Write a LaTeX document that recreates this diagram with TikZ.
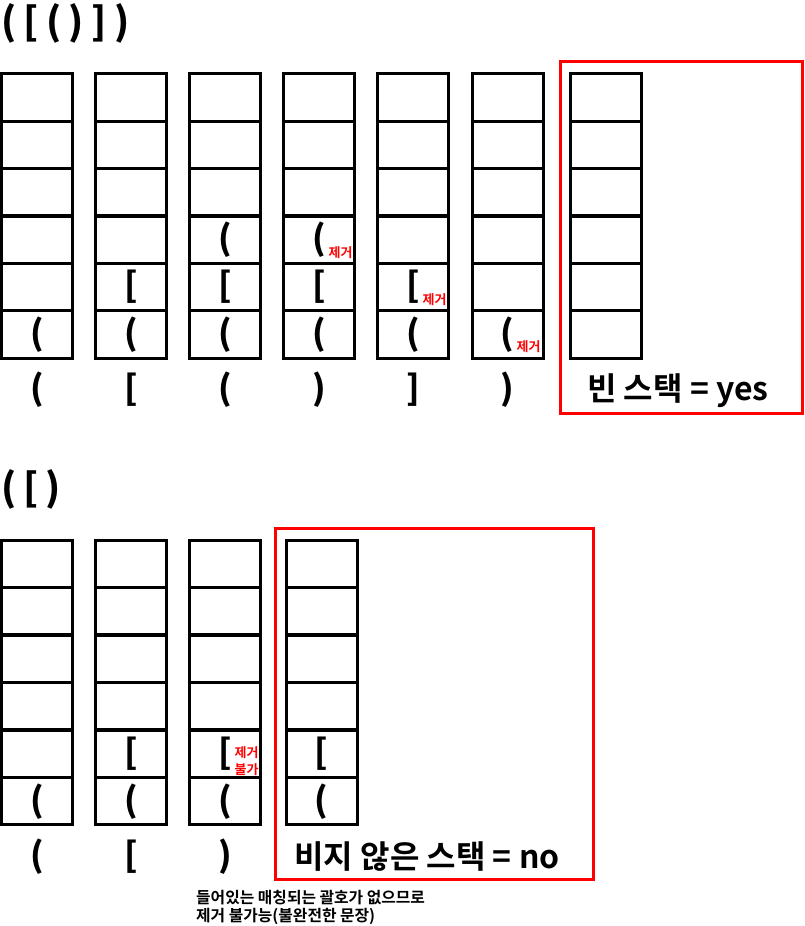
\documentclass[tikz,border=0pt]{standalone}
\usepackage{fontspec}
\setmainfont{Noto Sans CJK KR}[BoldFont={Noto Sans CJK KR Bold}]
\newfontfamily\brfont{Noto Sans CJK KR Black}
\usetikzlibrary{positioning}
\definecolor{markred}{rgb}{1,0,0}

\begin{document}
\begin{tikzpicture}[x=1pt,y=-1pt]
\tikzstyle{cell}=[draw,line width=3pt,minimum width=71pt,minimum height=47.4pt,inner sep=0pt]
\tikzstyle{br}=[font=\brfont\fontsize{34}{36}\selectfont,inner sep=0pt]
\tikzstyle{note}=[font=\bfseries\fontsize{13}{17}\selectfont,text=markred,inner sep=0pt,align=left]
\tikzstyle{res}=[font=\bfseries\fontsize{32}{34}\selectfont,inner sep=0pt]
\tikzstyle{frame}=[draw=markred,line width=3pt,inner sep=0pt]
\useasboundingbox (0,0) rectangle (804,926);

%% first sentence
\node[br,anchor=west,font=\brfont\fontsize{38}{40}\selectfont] (title1) at (1,23) {(\hspace{7.4pt}[\hspace{7.4pt}(\hspace{7.4pt})\hspace{7.4pt}]\hspace{7.4pt})};
\node[frame,minimum width=241.6pt,minimum height=351.6pt] (yesbox) at (681.5,237.5) {};
\foreach \i/\x in {1/37,2/131.1,3/225.2,4/319.3,5/413.4,6/507.5,7/605.5}
  \foreach \j in {1,...,6}
    \node[cell] (t\i-\j) at (\x,{74+47.33*(\j-0.5)}) {};

\node[br] (tb1) at (t1-6) {(};
\node[br] (tb2) at (t2-6) {(};
\node[br] (tb3) at (t2-5) {[};
\node[br] (tb4) at (t3-6) {(};
\node[br] (tb5) at (t3-5) {[};
\node[br] (tb6) at (t3-4) {(};
\node[br] (tb7) at (t4-6) {(};
\node[br] (tb8) at (t4-5) {[};
\node[br] (tb9) at (t4-4) {(};
\node[br] (tb10) at (t5-6) {(};
\node[br] (tb11) at (t5-5) {[};
\node[br] (tb12) at (t6-6) {(};
\node[note] (tn1) at (340.5,253) {제거};
\node[note] (tn2) at (434.5,300) {제거};
\node[note] (tn3) at (528.5,347) {제거};

\node[br] (tl1) at (37,390) {(};
\node[br] (tl2) at (131.1,390) {[};
\node[br] (tl3) at (225.2,390) {(};
\node[br] (tl4) at (319.3,390) {)};
\node[br] (tl5) at (413.4,390) {]};
\node[br] (tl6) at (507.5,390) {)};
\node[res] (yes) at (678,391) {빈 스택 = yes};

%% second sentence
\node[br,anchor=west,font=\brfont\fontsize{38}{40}\selectfont] (title2) at (1,489) {(\hspace{7pt}[\hspace{7pt})};
\node[frame,minimum width=318pt,minimum height=351pt] (nobox) at (434.3,703.8) {};
\foreach \i/\x in {1/37,2/131.1,3/225.2,4/321.5}
  \foreach \j in {1,...,6}
    \node[cell] (b\i-\j) at (\x,{540+47.5*(\j-0.5)}) {};

\node[br] (bb1) at (b1-6) {(};
\node[br] (bb2) at (b2-6) {(};
\node[br] (bb3) at (b2-5) {[};
\node[br] (bb4) at (b3-6) {(};
\node[br] (bb5) at (b3-5) {[};
\node[br] (bb6) at (b4-6) {(};
\node[br] (bb7) at (b4-5) {[};
\node[note] (bn1) at (246.5,761) {제거\\불가};

\node[br] (bl1) at (37,857) {(};
\node[br] (bl2) at (131.1,857) {[};
\node[br] (bl3) at (225.2,857) {)};
\node[res] (no) at (427,857) {비지 않은 스택 = no};
\node[anchor=west,align=left,inner sep=0pt,font=\bfseries\fontsize{15.8}{18}\selectfont] (why) at (196,907) {들어있는 매칭되는 괄호가 없으므로\\제거 불가능(불완전한 문장)};
\end{tikzpicture}
\end{document}
